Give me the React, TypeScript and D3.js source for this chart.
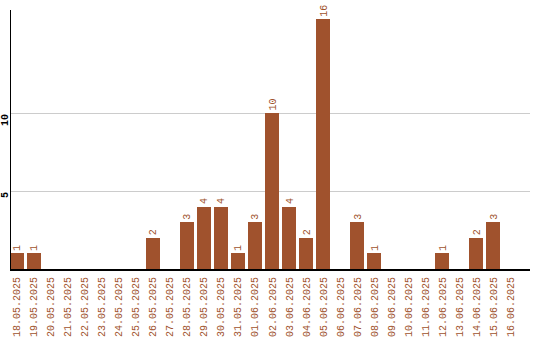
import React from "react";
import * as d3 from "d3";

const categories = [
  "18.05.2025", "19.05.2025", "20.05.2025", "21.05.2025", "22.05.2025",
  "23.05.2025", "24.05.2025", "25.05.2025", "26.05.2025", "27.05.2025",
  "28.05.2025", "29.05.2025", "30.05.2025", "31.05.2025", "01.06.2025",
  "02.06.2025", "03.06.2025", "04.06.2025", "05.06.2025", "06.06.2025",
  "07.06.2025", "08.06.2025", "09.06.2025", "10.06.2025", "11.06.2025",
  "12.06.2025", "13.06.2025", "14.06.2025", "15.06.2025", "16.06.2025",
];
const values = [1, 1, 0, 0, 0, 0, 0, 0, 2, 0, 3, 4, 4, 1, 3, 10, 4, 2, 16, 0, 3, 1, 0, 0, 0, 1, 0, 2, 3, 0];
const yTicks = [5, 10];
const yMax = 16.6;

const W = 540;
const H = 340;
const left = 10;
const right = 530;
const top = 10;
const bottom = 269;
const barColor = "#a0522d";
const font = "'Liberation Mono', 'DejaVu Sans Mono', monospace";

export default function App() {
  const x = d3.scaleBand<string>().domain(categories).range([left, 517]).paddingInner(0.19).paddingOuter(0).align(0);
  const y = d3.scaleLinear().domain([0, yMax]).range([bottom, top]);
  const bw = x.bandwidth();
  return (
    <svg width={W} height={H} style={{ position: "absolute", left: 0, top: 0, background: "#fff" }}>
      {yTicks.map((t) => (
        <g key={t}>
          <line x1={left} x2={right} y1={Math.round(y(t)) + 0.5} y2={Math.round(y(t)) + 0.5} stroke="#cccccc" strokeWidth={1} shapeRendering="crispEdges" />
          <text transform={`translate(7.5,${Math.round(y(t)) + 1}) rotate(-90)`} textAnchor="end" fontFamily={font} fontSize={10} fontWeight="bold" fill="#000">{t}</text>
        </g>
      ))}
      {categories.map((c, i) => {
        const v = values[i];
        const bx = x(c)!;
        const cx = bx + bw / 2;
        return (
          <g key={c}>
            {v > 0 && (
              <>
                <rect x={bx} y={y(v)} width={bw} height={bottom + 1 - y(v)} fill={barColor} shapeRendering="crispEdges" />
                <text transform={`translate(${cx + 3.5},${y(v) - 2.5}) rotate(-90)`} textAnchor="start" fontFamily={font} fontSize={10} fill={barColor}>{v}</text>
              </>
            )}
            <text transform={`translate(${cx + 3.5},277) rotate(-90)`} textAnchor="end" fontFamily={font} fontSize={10} fill={barColor}>{c}</text>
          </g>
        );
      })}
      <line x1={left + 0.5} x2={left + 0.5} y1={top} y2={bottom + 1.5} stroke="#000" strokeWidth={1.5} shapeRendering="crispEdges" />
      <line x1={left} x2={right} y1={bottom + 1} y2={bottom + 1} stroke="#000" strokeWidth={1.5} shapeRendering="crispEdges" />
    </svg>
  );
}
